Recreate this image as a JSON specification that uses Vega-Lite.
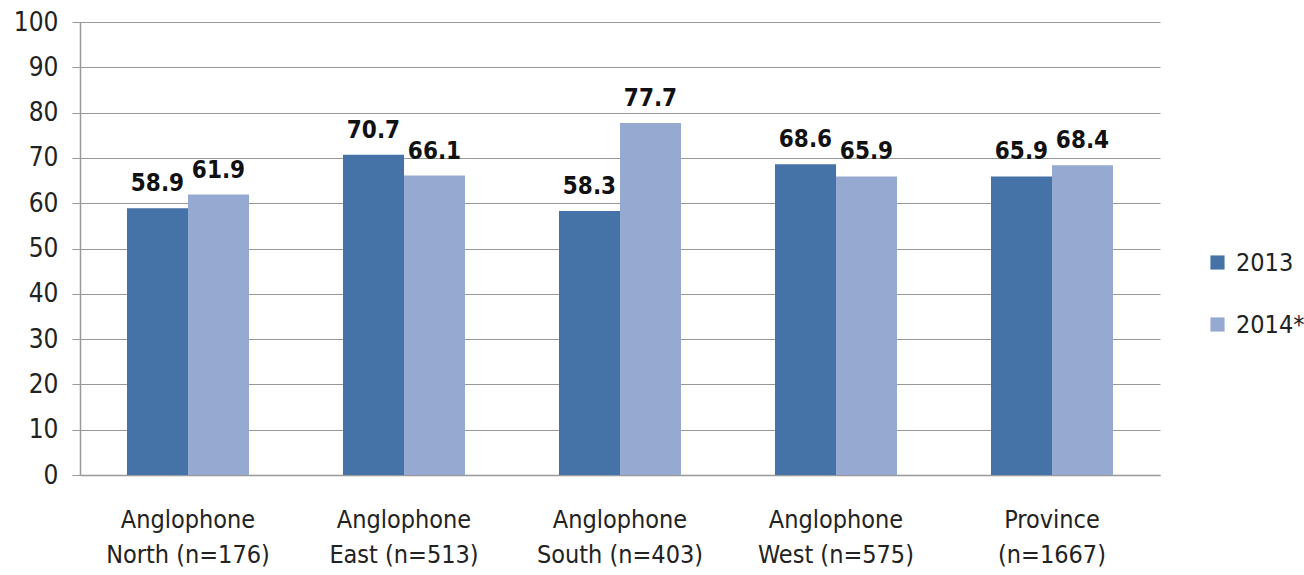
{
  "$schema": "https://vega.github.io/schema/vega-lite/v6.json",
  "width": 1080,
  "height": 453,
  "autosize": {"type": "none"},
  "padding": {"left": 80, "top": 22, "right": 144, "bottom": 100},
  "background": "white",
  "config": {
    "view": {"stroke": null},
    "font": "DejaVu Sans Condensed, sans-serif"
  },
  "data": {
    "values": [
      {"region": "Anglophone North (n=176)", "year": "2013", "value": 58.9},
      {"region": "Anglophone North (n=176)", "year": "2014*", "value": 61.9},
      {"region": "Anglophone East (n=513)", "year": "2013", "value": 70.7},
      {"region": "Anglophone East (n=513)", "year": "2014*", "value": 66.1},
      {"region": "Anglophone South (n=403)", "year": "2013", "value": 58.3},
      {"region": "Anglophone South (n=403)", "year": "2014*", "value": 77.7},
      {"region": "Anglophone West (n=575)", "year": "2013", "value": 68.6},
      {"region": "Anglophone West (n=575)", "year": "2014*", "value": 65.9},
      {"region": "Province (n=1667)", "year": "2013", "value": 65.9},
      {"region": "Province (n=1667)", "year": "2014*", "value": 68.4}
    ]
  },
  "encoding": {
    "x": {
      "field": "region",
      "type": "nominal",
      "sort": null,
      "title": null,
      "scale": {"paddingInner": 0.435, "paddingOuter": 0.2175},
      "axis": {
        "labelAngle": 0,
        "labelFontSize": 25,
        "labelColor": "#222222",
        "labelPadding": 32,
        "labelLineHeight": 35,
        "labelExpr": "indexof(datum.label,'Anglophone')==0 ? ['Anglophone', substring(datum.label, 11)] : split(datum.label, ' ')",
        "domainColor": "#999999",
        "domainWidth": 1.5,
        "ticks": false,
        "grid": false
      }
    },
    "xOffset": {"field": "year", "type": "nominal"},
    "y": {
      "field": "value",
      "type": "quantitative",
      "title": null,
      "scale": {"domain": [0, 100], "nice": false},
      "axis": {
        "values": [0, 10, 20, 30, 40, 50, 60, 70, 80, 90, 100],
        "labelFontSize": 26,
        "labelColor": "#222222",
        "labelPadding": 14,
        "tickSize": 8,
        "tickColor": "#999999",
        "domainColor": "#999999",
        "domainWidth": 1.5,
        "gridColor": "#999999",
        "gridWidth": 1.2
      }
    }
  },
  "layer": [
    {
      "mark": {"type": "bar"},
      "encoding": {
        "color": {
          "field": "year",
          "type": "nominal",
          "scale": {"domain": ["2013", "2014*"], "range": ["#4572A7", "#95A9D1"]},
          "legend": {
            "title": null,
            "orient": "none",
            "legendX": 1125,
            "legendY": 228,
            "symbolType": "square",
            "symbolSize": 200,
            "symbolStrokeWidth": 0,
            "labelFontSize": 25,
            "labelColor": "#222222",
            "rowPadding": 36,
            "labelOffset": 6
          }
        }
      }
    },
    {
      "mark": {"type": "text", "baseline": "bottom", "dy": -12, "fontSize": 24, "fontWeight": "bold", "color": "#111111"},
      "encoding": {
        "text": {"field": "value", "type": "quantitative", "format": ".1f"}
      }
    }
  ]
}
